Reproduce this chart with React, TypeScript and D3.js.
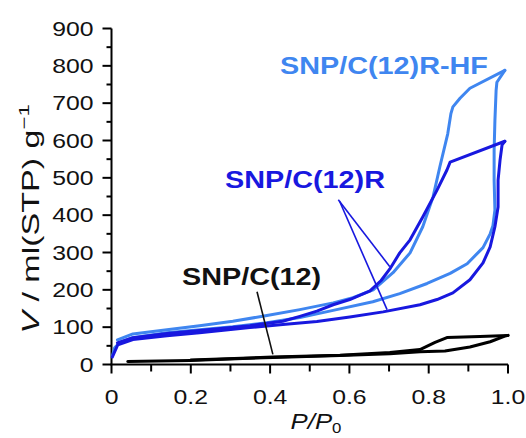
import React from "react";
import * as d3 from "d3";

// P/P0 vs adsorbed volume
const hfAdsorption: [number, number][] = [
  [0.002, 22], [0.008, 45], [0.021, 59], [0.054, 72], [0.14, 85], [0.222, 93],
  [0.306, 101], [0.392, 112], [0.475, 126], [0.559, 145], [0.659, 168], [0.727, 190],
  [0.796, 217], [0.854, 244], [0.897, 270], [0.937, 313], [0.955, 350], [0.962, 372],
  [0.967, 414], [0.965, 494], [0.965, 574], [0.967, 654], [0.970, 734], [0.972, 756],
  [0.992, 788],
];
const hfDesorption: [number, number][] = [
  [0.992, 788], [0.904, 740], [0.879, 713], [0.861, 690], [0.856, 672], [0.848, 618],
  [0.828, 529], [0.811, 449], [0.785, 369], [0.753, 299], [0.710, 246], [0.660, 200],
  [0.609, 179], [0.559, 165], [0.475, 147], [0.392, 131], [0.306, 116], [0.222, 104],
  [0.14, 93], [0.054, 82], [0.015, 66],
];
const rAdsorption: [number, number][] = [
  [0.002, 20], [0.016, 53], [0.054, 67], [0.14, 77], [0.222, 85], [0.349, 99],
  [0.432, 107], [0.518, 115], [0.601, 127], [0.685, 141], [0.778, 160], [0.821, 174],
  [0.861, 192], [0.904, 227], [0.937, 272], [0.955, 315], [0.967, 369], [0.975, 422],
  [0.975, 494], [0.980, 548], [0.985, 588], [0.992, 598],
];
const rDesorption: [number, number][] = [
  [0.992, 598], [0.854, 542], [0.846, 521], [0.821, 467], [0.785, 395], [0.753, 334],
  [0.727, 299], [0.702, 256], [0.680, 225], [0.652, 197], [0.601, 174], [0.559, 160],
  [0.518, 143], [0.475, 129], [0.432, 116], [0.349, 104], [0.222, 91], [0.14, 83],
  [0.054, 72], [0.015, 58],
];
const c12Adsorption: [number, number][] = [
  [0.041, 8], [0.198, 11], [0.407, 19], [0.576, 24], [0.702, 29], [0.778, 34],
  [0.841, 36], [0.904, 47], [0.955, 61], [0.992, 76], [1.0, 78],
];
const c12Desorption: [number, number][] = [
  [1.0, 78], [0.929, 75], [0.846, 72], [0.816, 59], [0.778, 40], [0.702, 32],
  [0.576, 25], [0.407, 20], [0.2, 12],
];

const xTicks = [0, 0.2, 0.4, 0.6, 0.8, 1.0];
const xTickLabels = ["0", "0.2", "0.4", "0.6", "0.8", "1.0"];
const xMinorTicks = [0.1, 0.3, 0.5, 0.7, 0.9];
const yTicks = [0, 100, 200, 300, 400, 500, 600, 700, 800, 900];
const yMinorTicks = [50, 150, 250, 350, 450, 550, 650, 750, 850];

// annotation leader lines in data coordinates
const leaderR: [number, number][][] = [
  [[0.572, 441], [0.702, 262]],
  [[0.575, 438], [0.695, 147]],
];
const leaderC12: [number, number][] = [[0.367, 195], [0.407, 27]];

const LIGHT = "#3f86f0";
const DARK = "#1818df";
const FONT = "'Liberation Sans', Arial, Helvetica, sans-serif";

export default function App() {
  const W = 526, H = 438;
  const x = d3.scaleLinear().domain([0, 1]).range([111.5, 508]);
  const y = d3.scaleLinear().domain([0, 900]).range([364.5, 28.5]);
  const line = d3.line<[number, number]>().x(d => x(d[0])).y(d => y(d[1]));

  const curves: { data: [number, number][]; color: string }[] = [
    { data: hfAdsorption, color: LIGHT },
    { data: hfDesorption, color: LIGHT },
    { data: rAdsorption, color: DARK },
    { data: rDesorption, color: DARK },
    { data: c12Adsorption, color: "#000" },
    { data: c12Desorption, color: "#000" },
  ];

  const sx = 1.2;
  const tickFont = 19.5;
  const tickSx = 1.27;

  return (
    <svg width={W} height={H} style={{ position: "absolute", left: 0, top: 0, background: "#fff" }}
      fontFamily={FONT}>
      <rect x={0} y={0} width={W} height={H} fill="#fff" />
      {/* axes */}
      <line x1={x(0)} x2={x(0)} y1={y(900)} y2={y(0)} stroke="#000" strokeWidth={2} />
      <line x1={x(0) - 1} x2={x(1)} y1={y(0)} y2={y(0)} stroke="#000" strokeWidth={2} />
      {yTicks.map(t => (
        <line key={"yt" + t} x1={x(0) - 9} x2={x(0)} y1={y(t)} y2={y(t)} stroke="#000" strokeWidth={2} />
      ))}
      {yMinorTicks.map(t => (
        <line key={"ym" + t} x1={x(0) - 5} x2={x(0)} y1={y(t)} y2={y(t)} stroke="#000" strokeWidth={2} />
      ))}
      {xTicks.map(t => (
        <line key={"xt" + t} x1={x(t)} x2={x(t)} y1={y(0)} y2={y(0) + 9} stroke="#000" strokeWidth={2} />
      ))}
      {xMinorTicks.map(t => (
        <line key={"xm" + t} x1={x(t)} x2={x(t)} y1={y(0)} y2={y(0) + 7} stroke="#000" strokeWidth={2} />
      ))}
      {yTicks.map(t => (
        <text key={"yl" + t} transform={`translate(${x(0) - 18},${y(t) + 7}) scale(${tickSx},1)`}
          textAnchor="end" fontSize={tickFont} fill="#111">{t}</text>
      ))}
      {xTicks.map((t, i) => (
        <text key={"xl" + t} transform={`translate(${x(t)},404) scale(${tickSx},1)`}
          textAnchor="middle" fontSize={tickFont} fill="#111">{xTickLabels[i]}</text>
      ))}
      {/* axis titles */}
      <text transform={`translate(316,429) scale(1.12,1)`} textAnchor="middle" fontSize={23} fill="#111">
        <tspan fontStyle="italic">P</tspan>
        <tspan fontStyle="italic">/</tspan>
        <tspan fontStyle="italic">P</tspan>
        <tspan fontSize={15} dy={4}>0</tspan>
      </text>
      <text transform={`translate(39,219) rotate(-90) scale(1.48,1)`} textAnchor="middle" fontSize={23} fill="#111">
        <tspan fontStyle="italic">V</tspan>
        <tspan> / ml(STP) g</tspan>
        <tspan fontSize={15} dy={-10}>−1</tspan>
      </text>

      {/* curves */}
      {curves.map((c, i) => (
        <path key={"c" + i} d={line(c.data) || ""} fill="none" stroke={c.color} strokeWidth={3}
          strokeLinejoin="round" strokeLinecap="round" />
      ))}

      {/* leaders */}
      {leaderR.map((l, i) => (
        <path key={"lr" + i} d={line(l) || ""} stroke={DARK} strokeWidth={1.6} fill="none" />
      ))}
      <path d={line(leaderC12) || ""} stroke="#111" strokeWidth={1.6} fill="none" />

      {/* labels */}
      <text transform={`translate(280,74) scale(${sx},1)`} fontSize={24} fontWeight="bold" fill={LIGHT}>SNP/C(12)R-HF</text>
      <text transform={`translate(225,188) scale(${sx},1)`} fontSize={24} fontWeight="bold" fill={DARK}>SNP/C(12)R</text>
      <text transform={`translate(182,285) scale(${sx},1)`} fontSize={24} fontWeight="bold" fill="#111">SNP/C(12)</text>
    </svg>
  );
}
